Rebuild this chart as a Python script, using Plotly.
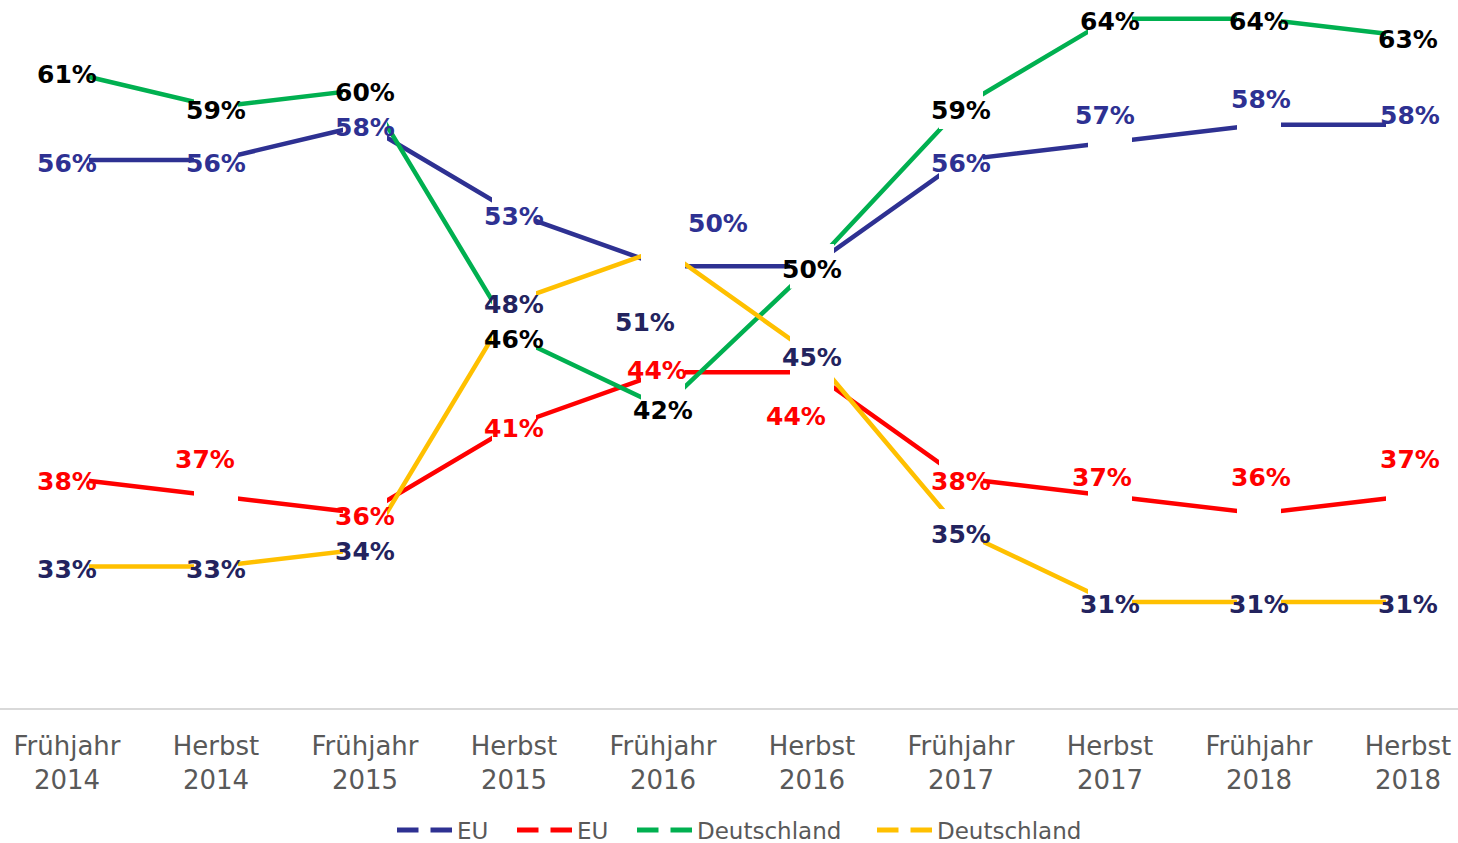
import plotly.graph_objects as go

categories = ["Frühjahr<br>2014", "Herbst<br>2014", "Frühjahr<br>2015", "Herbst<br>2015",
              "Frühjahr<br>2016", "Herbst<br>2016", "Frühjahr<br>2017", "Herbst<br>2017",
              "Frühjahr<br>2018", "Herbst<br>2018"]
eu_blue = [56, 56, 58, 53, 50, 50, 56, 57, 58, 58]
eu_red = [38, 37, 36, 41, 44, 44, 38, 37, 36, 37]
de_green = [61, 59, 60, 46, 42, 50, 59, 64, 64, 63]
de_yellow = [33, 33, 34, 48, 51, 45, 35, 31, 31, 31]
series_names = ["EU", "EU", "Deutschland", "Deutschland"]

# styling / label placement (pixel offsets: dx right, dy up)
line_colors = ["#2E3192", "#FF0000", "#00B050", "#FFC000"]
label_colors = ["#2E3192", "#FF0000", "#000000", "#23235E"]
label_shift = [
    [(0, 0), (0, 0), (0, 0), (0, 0), (55, 46), None, (0, 0), (-5, 30), (2, 28), (2, 12)],
    [(0, 0), (-11, 39), (0, 0), (0, 0), (-6, 5), (-16, -41), (0, 0), (-8, 21), (2, 39), (2, 39)],
    [(0, 0)] * 10,
    [(0, 0), (0, 0), (0, 0), (0, 0), (-18, -71), (0, 0), (0, 0), (0, 0), (0, 0), (0, 0)],
]
legend_ids = ["legend", "legend2", "legend3", "legend4"]
legend_left_px = [392, 512, 632, 872]

all_series = [eu_blue, eu_red, de_green, de_yellow]
xs = list(range(len(categories)))

fig = go.Figure()
for vals, name, col, lid in zip(all_series, series_names, line_colors, legend_ids):
    fig.add_trace(go.Scatter(
        x=xs, y=vals, name=name, mode="lines+markers", legend=lid,
        line=dict(color=col, width=4.5),
        marker=dict(symbol="square", size=44, color="white", line=dict(width=0)),
    ))

# white gap markers on top of every line
gx, gy = [], []
for vals in all_series:
    gx += xs
    gy += vals
fig.add_trace(go.Scatter(x=gx, y=gy, mode="markers", showlegend=False, hoverinfo="skip",
                         marker=dict(symbol="square", size=44, color="white", line=dict(width=0))))

annotations = []
for vals, lcol, shifts in zip(all_series, label_colors, label_shift):
    for i, v in enumerate(vals):
        s = shifts[i]
        if s is None:
            continue
        annotations.append(dict(
            x=i, y=v, xref="x", yref="y", text=f"{v}%", showarrow=False,
            xshift=s[0], yshift=s[1] - 3,
            font=dict(family="Verdana, DejaVu Sans", size=25, color=lcol, weight="bold"),
        ))

W, H = 1458, 843
legend_style = dict(orientation="h", xanchor="left", y=13 / H, yanchor="middle",
                    xref="container", yref="container",
                    font=dict(family="Verdana, DejaVu Sans", size=23, color="#595959"),
                    itemwidth=55, itemsizing="constant", bgcolor="rgba(0,0,0,0)")
legends = {lid: dict(legend_style, x=px / W) for lid, px in zip(legend_ids, legend_left_px)}

fig.update_layout(
    width=W, height=H,
    margin=dict(l=0, r=0, t=1, b=135),
    paper_bgcolor="white", plot_bgcolor="white",
    annotations=annotations,
    showlegend=True,
    **legends,
    xaxis=dict(range=[-0.4497, 9.3356], tickvals=xs, ticktext=categories,
               showgrid=False, zeroline=False, showline=True, linecolor="#D9D9D9", linewidth=2,
               ticks="outside", ticklen=14, tickcolor="rgba(0,0,0,0)",
               tickfont=dict(family="Verdana, DejaVu Sans", size=26, color="#595959")),
    yaxis=dict(range=[25, 65], visible=False, showgrid=False, zeroline=False),
)

fig.write_html("out.html", config={"displayModeBar": False},
               post_script="document.body.style.margin='0';document.body.style.overflow='hidden';")
